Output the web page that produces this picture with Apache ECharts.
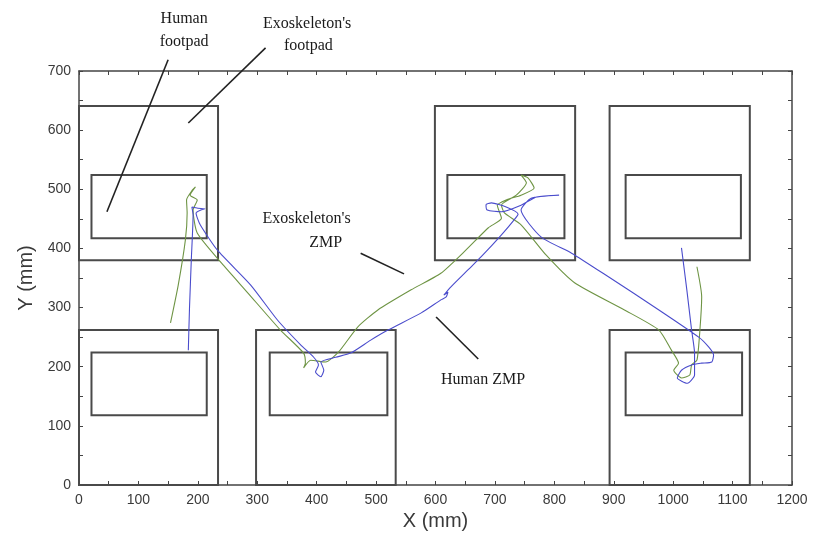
<!DOCTYPE html>
<html><head><meta charset="utf-8">
<script src="https://cdn.jsdelivr.net/npm/echarts@6/dist/echarts.min.js"></script>
<style>html,body{margin:0;padding:0;background:#fff}#c{width:814px;height:542px}</style>
</head><body><div id="c"></div>
<script>
// Axis ranges / ticks (mm)
const xRange = [0, 1200];
const yRange = [0, 700];
const tickStep = 100;

// Exoskeleton footpads (outer) [x0, y0, x1, y1] in mm
const exoFootpads = [
  [0, 380, 234, 641], [599, 380, 835, 641], [893, 380, 1129, 641],
  [0, 0, 234, 262], [298, 0, 533, 262], [893, 0, 1129, 262]
];
// Human footpads (inner) [x0, y0, x1, y1] in mm
const humanFootpads = [
  [21, 417, 215, 524], [620, 417, 817, 524], [920, 417, 1114, 524],
  [21, 118, 215, 224], [321, 118, 519, 224], [920, 118, 1116, 224]
];

// Human ZMP trajectory [x, y] mm
const humanZmp = [
  [184,228],[186,300],[189,380],[192,457],[190,470],[200,468],[212,467],[205,465],[197,460],
  [204,440],[233,397],[289,338],[334,279],[373,237],[395,216],[403,203],[398,191],[407,183],
  [412,194],[407,208],[432,216],[457,223],[491,245],[520,262],[576,291],[609,313],[618,318],
  [621,326],[614,321],[626,335],[655,364],[677,386],[711,423],[732,448],[739,458],[719,470],
  [694,477],[685,474],[687,465],[711,462],[744,473],[770,487],[808,490],[761,485],[744,465],
  [778,419],[829,392],[891,352],[976,296],[1043,250],[1060,233],[1068,220],[1065,208],
  [1048,206],[1031,203],[1014,194],[1007,181],[1024,172],[1036,186],[1036,223],[1031,262],
  [1023,330],[1014,401]
];

// Exoskeleton ZMP trajectory [x, y] mm
const exoZmp = [
  [154,274],[167,338],[179,414],[182,460],[181,482],[191,499],[196,504],[187,490],[199,482],
  [192,465],[199,426],[240,375],[284,325],[339,262],[378,223],[381,206],[378,198],[390,211],
  [415,208],[437,225],[469,267],[503,296],[559,330],[609,358],[651,397],[689,435],[711,451],
  [704,473],[719,482],[744,490],[766,502],[756,519],[744,524],[753,511],[736,490],[711,473],
  [716,460],[744,440],[786,389],[834,342],[918,296],[976,262],[997,228],[1009,206],[1001,194],
  [1014,181],[1028,186],[1031,203],[1040,211],[1045,262],[1048,318],[1040,369]
];

// Annotation texts: [text, x, y] (mm, centre) and pointer lines [x0,y0,x1,y1] (mm)
const annoTexts = [
  ['Human', 177, 788], ['footpad', 177, 750],
  ["Exoskeleton's", 384, 780], ['footpad', 386, 742],
  ["Exoskeleton's", 383, 450], ['ZMP', 415, 410],
  ['Human ZMP', 680, 178]
];
const annoLines = [
  [150, 719, 47, 462],
  [314, 739, 184, 612],
  [474, 392, 547, 357],
  [601, 284, 672, 213]
];

const chart = echarts.init(document.getElementById('c'), null, {renderer: 'canvas'});
const axisColor = '#444';
const tickLbl = {color: '#3a3a3a', fontSize: 14, fontFamily: 'Liberation Sans, Arial, sans-serif',
  formatter: v => String(v)};
function mkAxis(pos, showLabel, range) {
  return {
    type: 'value', position: pos, min: range[0], max: range[1], interval: tickStep,
    axisLine: {show: true, onZero: false, lineStyle: {color: axisColor, width: 1.5}},
    axisTick: {show: true, inside: true, length: 4, lineStyle: {color: axisColor}},
    minorTick: {show: true, splitNumber: 2, length: 4, lineStyle: {color: axisColor}},
    splitLine: {show: false}, minorSplitLine: {show: false},
    axisLabel: Object.assign({show: showLabel, margin: 8}, tickLbl)
  };
}
const nameStyle = {fontSize: 20, color: '#3a3a3a', fontFamily: 'Liberation Sans, Arial, sans-serif'};
const xBottom = mkAxis('bottom', true, xRange);
xBottom.name = 'X (mm)'; xBottom.nameLocation = 'middle'; xBottom.nameGap = 26;
xBottom.nameTextStyle = nameStyle;
const yLeft = mkAxis('left', true, yRange);
yLeft.name = 'Y (mm)'; yLeft.nameLocation = 'middle'; yLeft.nameGap = 42;
yLeft.nameTextStyle = nameStyle;

function rectSeries(name, data) {
  return {
    name, type: 'custom', xAxisIndex: 0, yAxisIndex: 0, data, clip: false,
    encode: {x: [0, 2], y: [1, 3]},
    renderItem(params, api) {
      const p0 = api.coord([api.value(0), api.value(3)]);
      const p1 = api.coord([api.value(2), api.value(1)]);
      return {type: 'rect', shape: {x: p0[0], y: p0[1], width: p1[0] - p0[0], height: p1[1] - p0[1]},
        style: {fill: 'none', stroke: '#4a4a4a', lineWidth: 2}};
    },
    z: 3, silent: true
  };
}

chart.setOption({
  backgroundColor: '#ffffff',
  animation: false,
  grid: {left: 79, right: 22, top: 71, bottom: 57, containLabel: false},
  xAxis: [xBottom, mkAxis('top', false, xRange)],
  yAxis: [yLeft, mkAxis('right', false, yRange)],
  series: [
    rectSeries('Exoskeleton footpad', exoFootpads),
    rectSeries('Human footpad', humanFootpads),
    {name: "Exoskeleton's ZMP", type: 'line', data: exoZmp, showSymbol: false, smooth: 0.2,
     lineStyle: {color: '#6e9444', width: 1.1}, z: 4},
    {name: 'Human ZMP', type: 'line', data: humanZmp, showSymbol: false, smooth: 0.2,
     lineStyle: {color: '#4a4ccc', width: 1.1}, z: 5}
  ]
});

function px(x, y) { return chart.convertToPixel({gridIndex: 0}, [x, y]); }
const graphics = [];
annoLines.forEach(l => {
  const a = px(l[0], l[1]), b = px(l[2], l[3]);
  graphics.push({type: 'line', shape: {x1: a[0], y1: a[1], x2: b[0], y2: b[1]},
    style: {stroke: '#222', lineWidth: 1.6}, z: 10});
});
annoTexts.forEach(t => {
  const p = px(t[1], t[2]);
  graphics.push({type: 'text', x: p[0], y: p[1], z: 10,
    style: {text: t[0], fill: '#1a1a1a', font: '16px "Liberation Serif", "Times New Roman", serif',
      align: 'center', verticalAlign: 'middle'}});
});
chart.setOption({graphic: graphics});
</script>
</body></html>
